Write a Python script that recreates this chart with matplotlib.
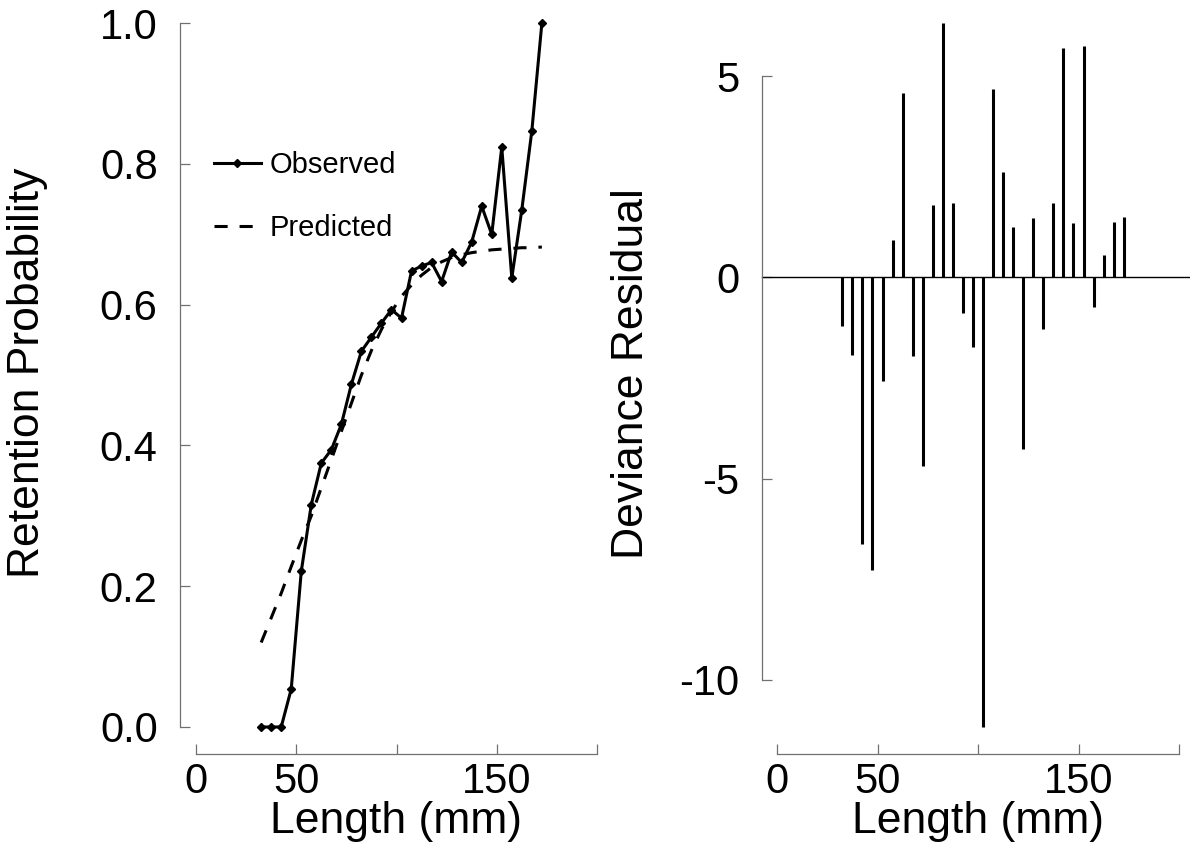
"""Retention probability and deviance residuals by length."""
import matplotlib
matplotlib.use('Agg')
import matplotlib.pyplot as plt


# Length classes (mm), midpoints of 5 mm bins
lengths = [32.5, 37.5, 42.5, 47.5, 52.5, 57.5, 62.5, 67.5, 72.5, 77.5,
           82.5, 87.5, 92.5, 97.5, 102.5, 107.5, 112.5, 117.5, 122.5, 127.5,
           132.5, 137.5, 142.5, 147.5, 152.5, 157.5, 162.5, 167.5, 172.5]

observed = [0.0, 0.0, 0.0, 0.054, 0.221, 0.316, 0.375, 0.394, 0.43, 0.487,
            0.534, 0.554, 0.574, 0.593, 0.581, 0.648, 0.655, 0.66, 0.633,
            0.675, 0.66, 0.689, 0.74, 0.70, 0.824, 0.638, 0.735, 0.847, 1.0]

predicted = [0.12, 0.155, 0.19, 0.228, 0.265, 0.30, 0.34, 0.38, 0.42, 0.46,
             0.50, 0.535, 0.565, 0.59, 0.612, 0.628, 0.642, 0.653, 0.661,
             0.667, 0.671, 0.674, 0.676, 0.678, 0.679, 0.680, 0.681, 0.681,
             0.682]

residuals = [-1.21, -1.92, -6.63, -7.28, -2.57, 0.93, 4.59, -1.96, -4.69,
             1.80, 6.32, 1.84, -0.88, -1.73, -11.17, 4.67, 2.62, 1.24,
             -4.26, 1.47, -1.29, 1.84, 5.71, 1.34, 5.75, -0.74, 0.55, 1.38,
             1.49]

x_ticks = [0, 50, 100, 150, 200]
x_ticklabels = ['0', '50', '', '150', '']
prob_ticks = [0.0, 0.2, 0.4, 0.6, 0.8, 1.0]
resid_ticks = [-10, -5, 0, 5]

plt.rcParams['font.family'] = ['Liberation Sans', 'DejaVu Sans']
plt.rcParams['axes.unicode_minus'] = False

SPINE_COLOR = '#707070'
TICK_SIZE = 30
LABEL_SIZE = 32


def style_axes(ax, ybounds, yspine_x):
    """SigmaPlot-like detached axes: floating y spine, ticks pointing in."""
    ax.spines['top'].set_visible(False)
    ax.spines['right'].set_visible(False)
    for side in ('left', 'bottom'):
        ax.spines[side].set_color(SPINE_COLOR)
        ax.spines[side].set_linewidth(0.9)
    ax.spines['left'].set_position(('data', yspine_x))
    ax.spines['left'].set_bounds(*ybounds)
    ax.set_xlim(0, 200)
    ax.set_xticks(x_ticks)
    ax.set_xticklabels(x_ticklabels)
    ax.tick_params(direction='in', length=7, width=0.9, color=SPINE_COLOR,
                   labelsize=TICK_SIZE)
    ax.tick_params(axis='x', pad=6)
    ax.tick_params(axis='y', pad=16)
    ax.set_xlabel('Length (mm)', fontsize=LABEL_SIZE)
    ax.xaxis.set_label_coords(0.5, -0.062)


fig = plt.figure(figsize=(11.9, 8.48), dpi=100)

# Left panel: observed vs predicted retention
ax1 = fig.add_axes([196 / 1190, 94 / 848, 401 / 1190, 754 / 848])
ax1.set_ylim(-0.0384, 1.033)
ax1.plot(lengths, predicted, color='black', lw=2.2, dashes=(4.3, 3.9),
         label='Predicted')
ax1.plot(lengths, observed, color='black', lw=2.2, marker='D',
         markersize=4, label='Observed', clip_on=False)
style_axes(ax1, (0, 1), -8)
ax1.set_yticks(prob_ticks)
ax1.set_yticklabels([f'{t:.1f}' for t in prob_ticks])
ax1.set_ylabel('Retention Probability', fontsize=LABEL_SIZE)
ax1.yaxis.set_label_coords(-0.37, 0.505)

handles, labels = ax1.get_legend_handles_labels()
ax1.legend(handles[::-1], labels[::-1], loc='upper left',
           bbox_to_anchor=(0.045, 0.80), frameon=False, fontsize=21,
           handlelength=1.6, handletextpad=0.3, labelspacing=1.2,
           borderpad=0, borderaxespad=0, numpoints=1)

# Right panel: deviance residuals
ax2 = fig.add_axes([777 / 1190, 94 / 848, 402 / 1190, 754 / 848])
ax2.set_ylim(-11.84, 6.89)
ax2.vlines(lengths, 0, residuals, color='black', lw=2.2)
ax2.axhline(0, xmin=-0.037, xmax=1.03, color='black', lw=1.0,
            clip_on=False)
style_axes(ax2, (-10, 5), -7.5)
ax2.set_yticks(resid_ticks)
ax2.set_yticklabels([str(t) for t in resid_ticks])
ax2.set_ylabel('Deviance Residual', fontsize=LABEL_SIZE)
ax2.yaxis.set_label_coords(-0.31, 0.505)

fig.savefig('out.png', dpi=100)
